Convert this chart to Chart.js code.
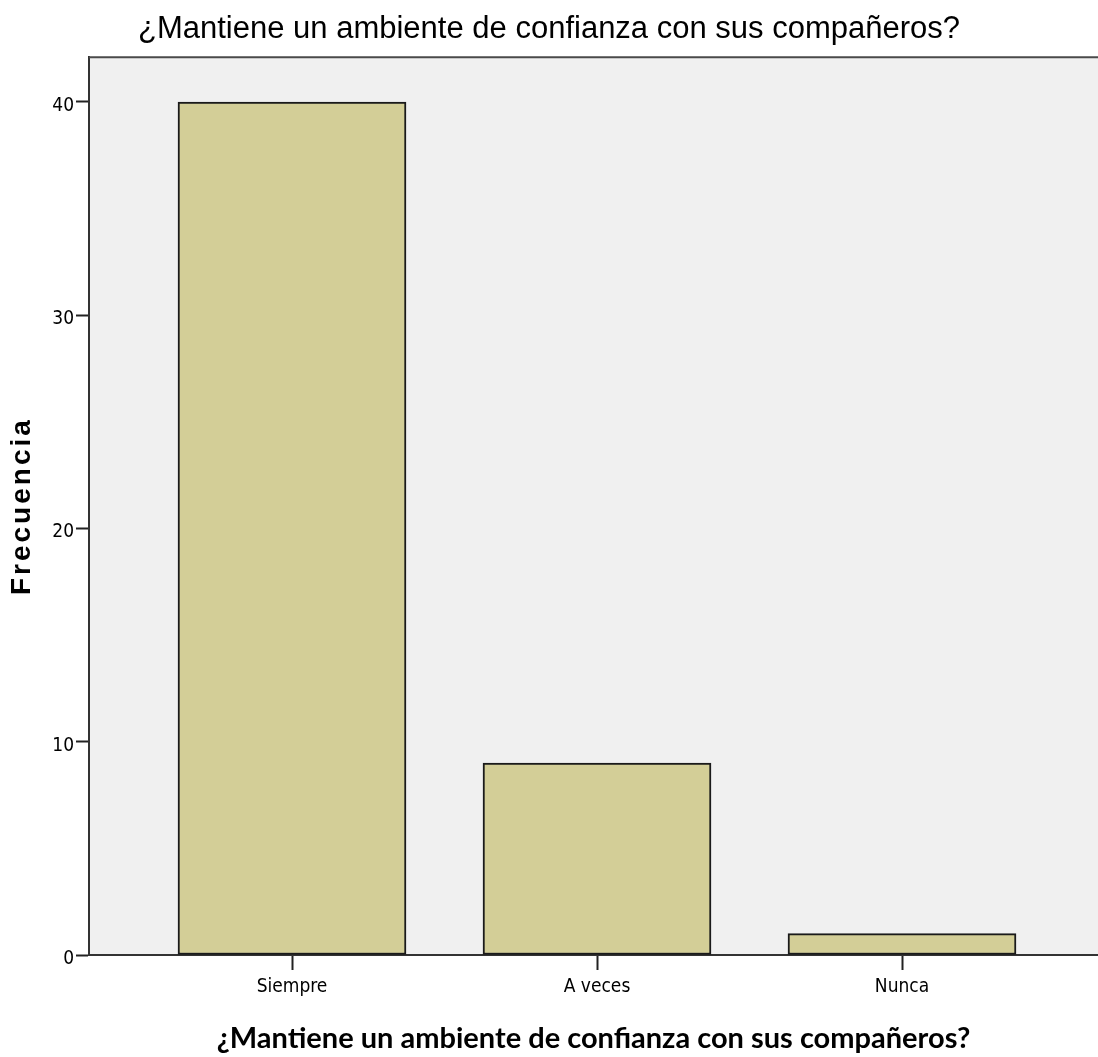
<!DOCTYPE html>
<html>
<head>
<meta charset="utf-8">
<script src="https://cdn.jsdelivr.net/npm/chart.js@4/dist/chart.umd.min.js"></script>
<style>
  body { margin: 0; background: #fff; }
</style>
</head>
<body>
<canvas id="myChart" width="1098" height="1057"></canvas>
<script>
const chartTitle = '¿Mantiene un ambiente de confianza con sus compañeros?';
const categories = ['Siempre', 'A veces', 'Nunca'];
const frequencies = [40, 9, 1];
const yTicks = [0, 10, 20, 30, 40];

// bars sit on 0, 1, 2 of a linear x axis so the spacing can match SPSS
let barData = [];
for (let i = 0; i < categories.length; i++) {
    barData.push({ x: i, y: frequencies[i] });
}

// grey plot background + frame
const plotFrame = {
    id: 'plotFrame',
    beforeDraw(chart) {
        const a = chart.chartArea;
        const ctx = chart.ctx;
        ctx.save();
        ctx.fillStyle = '#f0f0f0';
        ctx.fillRect(a.left, a.top, a.right - a.left, a.bottom - a.top);
        ctx.restore();
    },
    afterDraw(chart) {
        const a = chart.chartArea;
        const ctx = chart.ctx;
        ctx.save();
        ctx.strokeStyle = '#4a4a4a';
        ctx.lineWidth = 2;
        ctx.beginPath();
        ctx.moveTo(a.left, a.top);
        ctx.lineTo(a.right, a.top);
        ctx.stroke();
        ctx.restore();
    }
};

// spaced out y title like the SPSS one
function spacedTitle(scale) {
    if (scale._spaced) return;
    scale._spaced = true;
    const orig = scale.drawTitle;
    scale.drawTitle = function() {
        const c = this.ctx;
        c.letterSpacing = '3px';
        orig.apply(this, arguments);
        c.letterSpacing = '0px';
    };
}

const tickFont = { family: "'Liberation Sans Narrow', 'DejaVu Sans Condensed', sans-serif", size: 19 };

var ctx = document.getElementById('myChart').getContext('2d');
var chart = new Chart(ctx, {
    type: 'bar',
    data: {
        datasets: [{
            label: 'Frecuencia',
            data: barData,
            backgroundColor: '#d3ce97',
            borderColor: '#1a1a1a',
            borderWidth: 2,
            borderSkipped: false,
            barThickness: 228
        }]
    },
    options: {
        responsive: false,
        animation: false,
        layout: { padding: 0 },
        plugins: {
            legend: { display: false },
            tooltip: { enabled: false },
            title: {
                display: true,
                text: chartTitle,
                color: '#000',
                font: { family: "'Liberation Sans', Arial, sans-serif", size: 31, weight: 'normal' },
                padding: { top: 11, bottom: 9 }
            }
        },
        scales: {
            x: {
                type: 'linear',
                min: -0.6656,
                max: 2.6426,
                offset: false,
                afterBuildTicks: function(scale) {
                    scale.ticks = categories.map((c, i) => ({ value: i }));
                },
                afterFit: function(scale) { scale.height = 102; },
                ticks: {
                    color: '#000',
                    font: tickFont,
                    padding: 6,
                    maxRotation: 0,
                    callback: function(v) { return categories[v]; }
                },
                grid: {
                    offset: false,
                    drawOnChartArea: false,
                    drawTicks: true,
                    tickLength: 15,
                    tickColor: '#222',
                    tickWidth: 2
                },
                border: { color: '#333', width: 2 },
                title: {
                    display: true,
                    text: chartTitle,
                    color: '#000',
                    font: { family: "Lato, 'DejaVu Sans', sans-serif", size: 29, weight: 'bold' },
                    padding: { top: 0, bottom: 1 }
                }
            },
            y: {
                min: 0,
                max: 42.1,
                afterBuildTicks: function(scale) {
                    scale.ticks = yTicks.map(v => ({ value: v }));
                },
                afterFit: function(scale) {
                    scale.width = 89;
                    spacedTitle(scale);
                },
                ticks: {
                    color: '#000',
                    font: tickFont,
                    padding: 2,
                    labelOffset: 4
                },
                grid: {
                    drawOnChartArea: false,
                    drawTicks: true,
                    tickLength: 13,
                    tickColor: '#222',
                    tickWidth: 2
                },
                border: { color: '#333', width: 2 },
                title: {
                    display: true,
                    text: 'Frecuencia',
                    color: '#000',
                    font: { family: "'Liberation Sans', Arial, sans-serif", size: 28, weight: 'bold' },
                    padding: { top: 5, bottom: 0 }
                }
            }
        }
    },
    plugins: [plotFrame]
});
</script>
</body>
</html>
